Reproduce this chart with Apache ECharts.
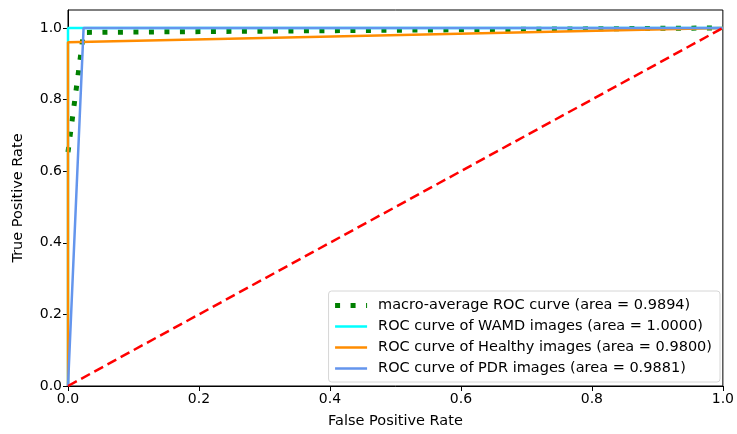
<!DOCTYPE html>
<html>
  <head>
    <meta charset="utf-8" />
    <style>
      html, body {margin: 0; padding: 0; background: #fff;}
      #roc {width: 737px; height: 434px;}
    </style>
    <script src="https://cdn.jsdelivr.net/npm/echarts@6/dist/echarts.min.js"></script>
  </head>
  <body>
    <div id="roc"></div>

    <script type="text/javascript">
      // curve points as [false positive rate, true positive rate]
      var macroAvg = [[0, 0.6533], [0.0238, 0.9874], [1, 1]];
      var wamd     = [[0, 0], [0, 1], [1, 1]];
      var healthy  = [[0, 0], [0, 0.96], [1, 1]];
      var pdr      = [[0, 0], [0.0238, 1], [1, 1]];
      var chance   = [[0, 0], [1, 1]];

      var seriesNames = [
        'macro-average ROC curve (area = 0.9894)',
        'ROC curve of WAMD images (area = 1.0000)',
        'ROC curve of Healthy images (area = 0.9800)',
        'ROC curve of PDR images (area = 0.9881)'
      ];
      var tickValues = [0, 0.2, 0.4, 0.6, 0.8, 1.0];

      var font = 'DejaVu Sans';
      var chart = echarts.init(document.getElementById('roc'));

      function curve(name, data, color, width, dash) {
        return {
          name: name,
          type: 'line',
          data: data,
          symbol: 'none',
          lineStyle: {color: color, width: width, type: dash || 'solid', cap: 'butt'},
          itemStyle: {color: color}
        };
      }

      var option = {
        animation: false,
        textStyle: {fontFamily: font},
        grid: {left: 68, right: 13, top: 10, bottom: 46, show: true,
               borderColor: '#000', borderWidth: 1, backgroundColor: 'transparent'},
        legend: {
          data: seriesNames,
          orient: 'vertical',
          right: 17,
          bottom: 52,
          itemWidth: 32,
          itemHeight: 14,
          itemGap: 6,
          padding: [7, 8, 6, 4],
          backgroundColor: '#fff',
          borderColor: '#d6d6d6',
          borderWidth: 1,
          borderRadius: 3,
          itemStyle: {opacity: 0},
          lineStyle: {width: 'inherit'},
          textStyle: {fontFamily: font, fontSize: 14.5, color: '#000', padding: [0, 0, 0, 6]}
        },
        xAxis: {
          type: 'value',
          min: 0, max: 1, interval: 0.2,
          name: 'False Positive Rate',
          nameLocation: 'middle',
          nameGap: 28,
          nameTextStyle: {fontFamily: font, fontSize: 14.5, color: '#000'},
          axisLine: {lineStyle: {color: '#000'}},
          axisTick: {length: 5, lineStyle: {color: '#000'}},
          axisLabel: {fontFamily: font, fontSize: 14, color: '#000', margin: 6,
                      formatter: function (v) { return v.toFixed(1); }},
          splitLine: {show: false}
        },
        yAxis: {
          type: 'value',
          min: 0, max: 1.05,
          name: 'True Positive Rate',
          nameLocation: 'middle',
          nameGap: 42,
          nameTextStyle: {fontFamily: font, fontSize: 14.5, color: '#000'},
          axisLine: {lineStyle: {color: '#000'}},
          axisTick: {length: 5, lineStyle: {color: '#000'}, customValues: tickValues},
          axisLabel: {fontFamily: font, fontSize: 14, color: '#000', margin: 6,
                      customValues: tickValues,
                      formatter: function (v) { return v.toFixed(1); }},
          splitLine: {show: false}
        },
        series: [
          curve(seriesNames[0], macroAvg, '#008000', 5, [5, 10.5]),
          curve(seriesNames[1], wamd, '#00ffff', 2.5),
          curve(seriesNames[2], healthy, '#ff8c00', 2.5),
          curve(seriesNames[3], pdr, '#6495ed', 2.5),
          curve('chance', chance, '#ff0000', 2.5, [10, 5])
        ]
      };

      chart.setOption(option);
    </script>
  </body>
</html>
